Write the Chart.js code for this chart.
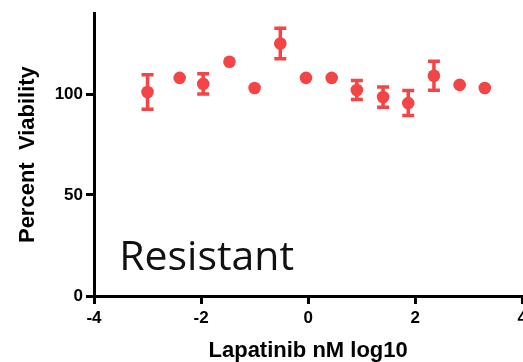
<!DOCTYPE html>
<html>
<head>
<meta charset="utf-8">
<script src="https://cdn.jsdelivr.net/npm/chart.js@4/dist/chart.umd.min.js"></script>
<style>
  html, body { margin: 0; padding: 0; overflow: hidden; background: #fff; }
  #wrap { width: 531px; height: 362px; }
</style>
</head>
<body>
<div id="wrap"><canvas id="viabilityChart" width="531" height="362"></canvas></div>
<script>
// values
const logDose   = [-3.0, -2.4, -1.96, -1.47, -1.0, -0.52, -0.04, 0.44, 0.91, 1.40, 1.87, 2.35, 2.83, 3.30];
const viability = [101, 108, 105, 116, 103, 125, 108, 108, 102, 98.5, 95.5, 109, 104.5, 103];
const errSem    = [8.5, 0, 5, 0, 0, 7.5, 0, 0, 4.7, 5, 6.2, 7.2, 0, 0];
const yTicks    = [0, 50, 100];
const xTicks    = [-4, -2, 0, 2, 4];

const RED = "#F34545";
const AXIS_FONT = "'Liberation Sans', Arial, sans-serif";

// simple error bar plugin, drawn through the chart scales
const errorBars = {
  id: "errorBars",
  beforeDatasetsDraw(chart) {
    const { ctx, scales: { x, y } } = chart;
    ctx.save();
    ctx.strokeStyle = RED;
    ctx.lineWidth = 3.5;
    logDose.forEach((d, i) => {
      if (!errSem[i]) return;
      const px = x.getPixelForValue(d);
      const top = y.getPixelForValue(viability[i] + errSem[i]);
      const bot = y.getPixelForValue(viability[i] - errSem[i]);
      ctx.beginPath();
      ctx.moveTo(px, top); ctx.lineTo(px, bot);
      ctx.moveTo(px - 6, top); ctx.lineTo(px + 6, top);
      ctx.moveTo(px - 6, bot); ctx.lineTo(px + 6, bot);
      ctx.stroke();
    });
    ctx.restore();
  }
};

const label = {
  id: "label",
  afterDraw(chart) {
    const { ctx, scales: { x, y } } = chart;
    ctx.save();
    ctx.fillStyle = "#111";
    ctx.font = "41px 'Open Sans', sans-serif";
    ctx.textBaseline = "alphabetic";
    ctx.fillText("Resistant", x.getPixelForValue(-3.53), y.getPixelForValue(12.8));
    ctx.restore();
  }
};

new Chart(document.getElementById("viabilityChart"), {
  type: "scatter",
  data: {
    datasets: [{
      data: logDose.map((d, i) => ({ x: d, y: viability[i] })),
      backgroundColor: RED,
      borderWidth: 0,
      pointRadius: 6.3,
      pointHoverRadius: 6.3
    }]
  },
  plugins: [errorBars, label],
  options: {
    responsive: false,
    animation: false,
    layout: { padding: { top: 11, left: 0, right: 0, bottom: 0 } },
    plugins: { legend: { display: false }, tooltip: { enabled: false } },
    scales: {
      x: {
        type: "linear",
        min: -4, max: 4,
        afterBuildTicks: s => { s.ticks = xTicks.map(v => ({ value: v })); },
        afterFit: s => { s.height = 66; },
        grid: { drawOnChartArea: false, drawTicks: true, tickLength: 8, tickWidth: 3, tickColor: "#000" },
        border: { display: true, color: "#000", width: 3 },
        ticks: {
          color: "#000", padding: 4,
          font: { family: AXIS_FONT, size: 17, weight: "bold" }
        },
        title: {
          display: true, text: "Lapatinib nM log10", color: "#000",
          padding: { top: 0, bottom: 0 },
          font: { family: AXIS_FONT, size: 22, weight: "bold", lineHeight: 1 }
        }
      },
      y: {
        min: 0, max: 140,
        afterBuildTicks: s => { s.ticks = yTicks.map(v => ({ value: v })); },
        afterFit: s => { s.width = 94; },
        grid: { drawOnChartArea: false, drawTicks: true, tickLength: 8, tickWidth: 3, tickColor: "#000" },
        border: { display: true, color: "#000", width: 3 },
        ticks: {
          color: "#000", padding: 3,
          font: { family: AXIS_FONT, size: 17, weight: "bold" }
        },
        title: {
          display: true, text: "Percent  Viability", color: "#000",
          padding: { top: 17, bottom: 0 },
          font: { family: AXIS_FONT, size: 22, weight: "bold", lineHeight: 1 }
        }
      }
    }
  }
});
</script>
</body>
</html>
